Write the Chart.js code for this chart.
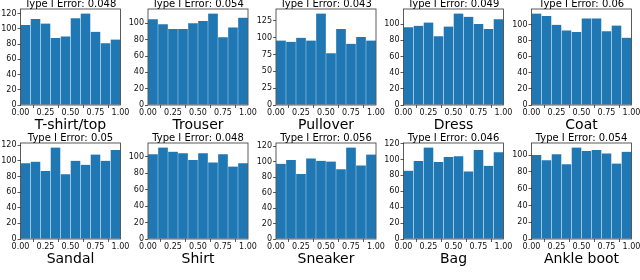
<!DOCTYPE html>
<html>
<head>
<meta charset="utf-8">
<script src="https://cdn.jsdelivr.net/npm/chart.js@4/dist/chart.umd.min.js"></script>
<style>
  html, body { margin: 0; padding: 0; background: #fff; }
  #wrap { position: relative; width: 640px; height: 280px; }
  #wrap canvas { position: absolute; left: 0; top: 0; }
</style>
</head>
<body>
<div id="wrap"></div>
<script>
// histogram data, 10 bins on [0, 1]
const binEdges = [0, 0.1, 0.2, 0.3, 0.4, 0.5, 0.6, 0.7, 0.8, 0.9, 1.0];
const xTicks = [0, 0.25, 0.5, 0.75, 1.0];

const classNames = ['T-shirt/top', 'Trouser', 'Pullover', 'Dress', 'Coat',
                    'Sandal', 'Shirt', 'Sneaker', 'Bag', 'Ankle boot'];
const typeIErrors = ['0.048', '0.054', '0.043', '0.049', '0.06',
                     '0.05', '0.048', '0.056', '0.046', '0.054'];

const tshirtCounts   = [105, 113, 107, 88, 90, 114, 120, 96, 81, 86];
const trouserCounts  = [105, 99, 93, 93, 100, 103, 112, 83, 95, 107];
const pulloverCounts = [96, 94, 100, 96, 136, 77, 113, 91, 101, 96];
const dressCounts    = [96, 98, 102, 85, 97, 113, 109, 100, 94, 106];
const coatCounts     = [114, 111, 100, 93, 91, 108, 108, 92, 99, 84];
const sandalCounts   = [97, 99, 87, 117, 83, 100, 95, 108, 100, 114];
const shirtCounts    = [103, 111, 106, 104, 96, 104, 93, 103, 88, 92];
const sneakerCounts  = [97, 102, 84, 104, 101, 100, 90, 118, 95, 109];
const bagCounts      = [86, 98, 115, 97, 103, 104, 85, 112, 92, 109];
const bootCounts     = [100, 94, 101, 89, 109, 105, 106, 102, 90, 104];

const allCounts = [tshirtCounts, trouserCounts, pulloverCounts, dressCounts, coatCounts,
                   sandalCounts, shirtCounts, sneakerCounts, bagCounts, bootCounts];
const yStepSizes = [20, 20, 25, 20, 20, 20, 20, 20, 20, 20];

// layout of the 2x5 grid
const W = 640, H = 280;
const plotW = 100;
const colLeft = [20.5, 148, 276, 403.5, 531.5];
const rowTop = [9, 143];
const plotH = 96;
const yAxisW = 20;
const xAxisH = 14;
const FONT = 'DejaVu Sans';

const frameAndText = {
  id: 'frameAndText',
  afterDraw(chart, args, opts) {
    const ctx = chart.ctx;
    const a = chart.chartArea;
    ctx.save();
    ctx.strokeStyle = '#333';
    ctx.lineWidth = 0.8;
    ctx.strokeRect(a.left, a.top, a.right - a.left, a.bottom - a.top);
    ctx.fillStyle = '#000';
    ctx.textAlign = 'center';
    ctx.textBaseline = 'alphabetic';
    ctx.font = '10px "' + FONT + '"';
    ctx.fillText('Type I Error: ' + opts.err, (a.left + a.right) / 2, a.top - 2);
    ctx.font = '14px "' + FONT + '"';
    ctx.fillText(opts.label, (a.left + a.right) / 2, a.bottom + 24);
    ctx.restore();
  }
};

const wrap = document.getElementById('wrap');

allCounts.forEach((counts, i) => {
  const row = Math.floor(i / 5), col = i % 5;
  const left = colLeft[col], top = rowTop[row];
  const canvas = document.createElement('canvas');
  canvas.width = W; canvas.height = H;
  canvas.style.width = W + 'px'; canvas.style.height = H + 'px';
  wrap.appendChild(canvas);

  const points = counts.map((c, k) => ({ x: (binEdges[k] + binEdges[k + 1]) / 2, y: c }));
  const yMax = Math.max(...counts) * 1.05;
  const step = yStepSizes[i];

  new Chart(canvas, {
    type: 'bar',
    data: {
      datasets: [{
        data: points,
        backgroundColor: '#1f77b4',
        borderColor: 'rgba(255,255,255,0.3)',
        borderWidth: { left: 0.5, right: 0.5, top: 0, bottom: 0 },
        borderSkipped: false,
        barPercentage: 1,
        categoryPercentage: 1
      }]
    },
    options: {
      responsive: false,
      animation: false,
      events: [],
      layout: {
        padding: {
          left: left - yAxisW,
          right: W - (left + plotW),
          top: top,
          bottom: H - (top + plotH) - xAxisH
        }
      },
      plugins: {
        legend: { display: false },
        tooltip: { enabled: false },
        title: { display: false },
        frameAndText: { err: typeIErrors[i], label: classNames[i] }
      },
      scales: {
        x: {
          type: 'linear',
          min: 0, max: 1,
          offset: false,
          afterFit(s) { s.height = xAxisH; s.paddingLeft = 0; s.paddingRight = 0; },
          afterBuildTicks(s) { s.ticks = xTicks.map(v => ({ value: v })); },
          ticks: {
            callback: v => v.toFixed(2),
            font: { family: FONT, size: 8 },
            color: '#111',
            padding: 0,
            maxRotation: 0,
            autoSkip: false
          },
          grid: { display: true, drawOnChartArea: false, drawTicks: true, tickLength: 3, color: '#333', lineWidth: 0.8 },
          border: { display: false }
        },
        y: {
          min: 0, max: yMax,
          afterFit(s) { s.width = yAxisW; s.paddingTop = 0; s.paddingBottom = 0; },
          afterBuildTicks(s) {
            const t = [];
            for (let v = 0; v <= s.max; v += step) t.push({ value: v });
            s.ticks = t;
          },
          ticks: {
            font: { family: FONT, size: 8 },
            color: '#111',
            padding: 1,
            autoSkip: false
          },
          grid: { display: true, drawOnChartArea: false, drawTicks: true, tickLength: 3, color: '#333', lineWidth: 0.8 },
          border: { display: false }
        }
      }
    },
    plugins: [frameAndText]
  });
});
</script>
</body>
</html>
